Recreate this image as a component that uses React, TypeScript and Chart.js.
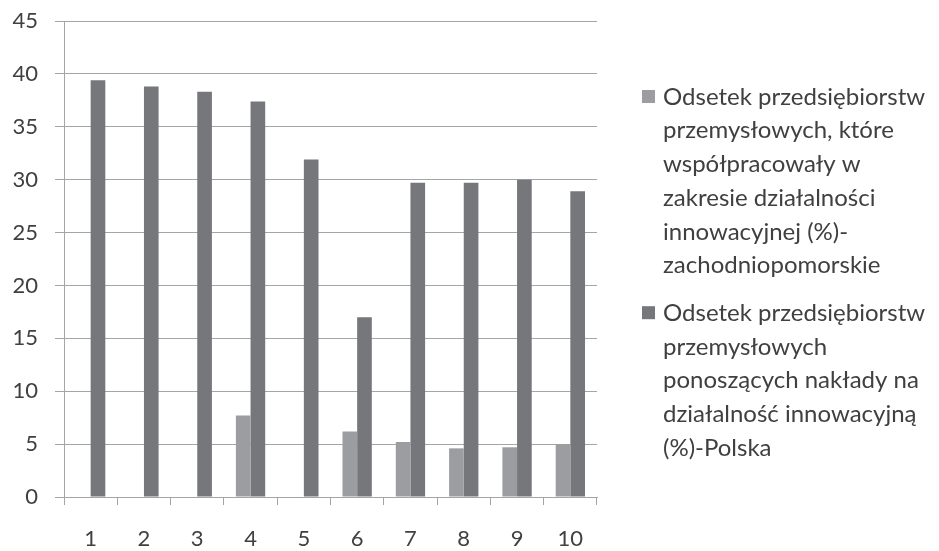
import React, { useEffect, useRef } from 'react';
import { Chart, registerables } from 'chart.js';

Chart.register(...registerables);

const categories = ['1', '2', '3', '4', '5', '6', '7', '8', '9', '10'];
const zachodniopomorskie: (number | null)[] = [null, null, null, 7.7, null, 6.2, 5.2, 4.6, 4.7, 5.0];
const polska: number[] = [39.4, 38.8, 38.3, 37.4, 31.9, 17.0, 29.7, 29.7, 30.0, 28.9];
const yTicks: number[] = [0, 5, 10, 15, 20, 25, 30, 35, 40, 45];

const legendLines1: string[] = [
  'Odsetek przedsiębiorstw',
  'przemysłowych, które',
  'współpracowały w',
  'zakresie działalności',
  'innowacyjnej (%)-',
  'zachodniopomorskie',
];
const legendLines2: string[] = [
  'Odsetek przedsiębiorstw',
  'przemysłowych',
  'ponoszących nakłady na',
  'działalność innowacyjną',
  '(%)-Polska',
];

const LIGHT = '#9c9da1';
const DARK = '#76777b';
const GRID = '#a5a5a5';
const TEXT = '#404040';
const FONT = 'Lato';

const wrappedLegend = {
  id: 'wrappedLegend',
  afterDraw(chart: any) {
    const ctx = chart.ctx as CanvasRenderingContext2D;
    const items = [
      { color: LIGHT, lines: legendLines1 },
      { color: DARK, lines: legendLines2 },
    ];
    const lineH = 33.7;
    let y = 97;
    ctx.save();
    ctx.font = `24px ${FONT}`;
    ctx.textBaseline = 'middle';
    ctx.textAlign = 'left';
    items.forEach((item) => {
      ctx.fillStyle = item.color;
      ctx.fillRect(642, y - 7, 13, 13);
      ctx.fillStyle = TEXT;
      item.lines.forEach((line, j) => {
        ctx.fillText(line, 663, y + j * lineH);
      });
      y += item.lines.length * lineH + 14;
    });
    ctx.restore();
  },
};

export default function App() {
  const ref = useRef<HTMLCanvasElement | null>(null);

  useEffect(() => {
    document.body.style.margin = '0';
    if (!ref.current) return;
    const chart = new Chart(ref.current, {
      type: 'bar',
      data: {
        labels: categories,
        datasets: [
          {
            label: legendLines1.join(' '),
            data: zachodniopomorskie,
            backgroundColor: LIGHT,
            categoryPercentage: 0.55,
            barPercentage: 1,
          },
          {
            label: legendLines2.join(' '),
            data: polska,
            backgroundColor: DARK,
            categoryPercentage: 0.55,
            barPercentage: 1,
          },
        ],
      },
      options: {
        animation: false,
        responsive: true,
        maintainAspectRatio: false,
        layout: { autoPadding: false, padding: { top: 21, right: 342, bottom: 0, left: 0 } },
        plugins: {
          legend: { display: false },
          tooltip: { enabled: false },
        },
        scales: {
          x: {
            grid: {
              display: true,
              drawOnChartArea: false,
              drawTicks: true,
              tickLength: 8,
              color: GRID,
              offset: true,
            },
            border: { display: true, color: GRID },
            ticks: {
              color: TEXT,
              font: { family: FONT, size: 22 },
              padding: 21,
              maxRotation: 0,
            },
            afterFit(scale: any) {
              scale.height = 54;
              scale.paddingLeft = 0;
              scale.paddingRight = 0;
            },
          },
          y: {
            min: 0,
            max: 45,
            afterBuildTicks(scale: any) {
              scale.ticks = yTicks.map((v) => ({ value: v }));
            },
            grid: {
              color: GRID,
              tickLength: 9,
              drawTicks: true,
            },
            border: { display: true, color: GRID },
            ticks: {
              color: TEXT,
              font: { family: FONT, size: 22 },
              padding: 17,
            },
            afterFit(scale: any) {
              scale.width = 64;
              scale.paddingTop = 0;
              scale.paddingBottom = 0;
            },
          },
        },
      },
      plugins: [wrappedLegend],
    });
    return () => chart.destroy();
  }, []);

  return (
    <div style={{ width: 939, height: 551, position: 'relative' }}>
      <canvas ref={ref} />
    </div>
  );
}
